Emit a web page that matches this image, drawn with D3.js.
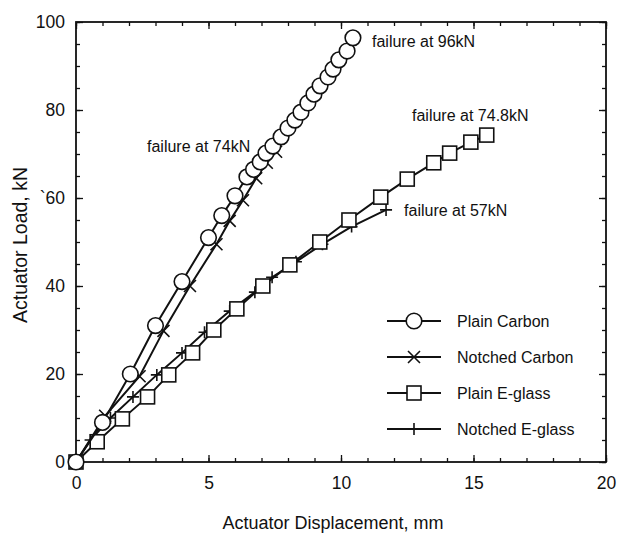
<!DOCTYPE html>
<html>
<head>
<meta charset="utf-8">
<script src="https://cdn.jsdelivr.net/npm/d3@7/dist/d3.min.js"></script>
<style>
  body { margin: 0; background: #fff; }
  text { font-family: "Liberation Sans", Arial, Helvetica, sans-serif; fill: #111; }
</style>
</head>
<body>
<svg id="chart" width="617" height="533"></svg>
<script>
// displacement (mm), load (kN)
const plainCarbon = [
  [0, 0], [1.0, 9], [2.05, 20], [3.0, 31], [4.0, 41], [5.0, 51], [5.5, 56],
  [6.0, 60.5], [6.45, 64.8], [6.7, 66.5], [6.95, 68.2], [7.17, 70.2],
  [7.43, 71.8], [7.74, 73.9], [8.0, 75.9], [8.26, 77.7], [8.49, 79.5],
  [8.75, 81.6], [8.98, 83.6], [9.21, 85.5], [9.51, 87.5], [9.7, 89.3],
  [9.92, 91.4], [10.23, 93.4], [10.45, 96.4]
];
const notchedCarbon = [
  [0, 0], [1.1, 10.5], [2.4, 19.5], [3.3, 29.8], [4.3, 40], [5.3, 49.5],
  [5.8, 54.8], [6.3, 59.5], [6.8, 64.5], [7.2, 68], [7.55, 70.5]
];
const plainGlass = [
  [0, 0], [0.8, 4.6], [1.75, 9.8], [2.7, 14.8], [3.5, 19.8], [4.4, 24.8],
  [5.2, 30], [6.07, 34.8], [7.05, 40], [8.07, 44.8], [9.2, 50], [10.3, 55],
  [11.5, 60.2], [12.5, 64.3], [13.5, 68], [14.1, 70.2], [14.9, 72.7], [15.5, 74.3]
];
const notchedGlass = [
  [0, 0], [0.55, 5], [1.3, 10], [2.15, 14.8], [3.05, 19.8], [4.0, 24.8],
  [4.85, 29.5], [5.8, 34.3], [6.75, 38.6], [7.4, 42], [8.3, 45.5],
  [9.3, 49.5], [10.4, 53.5], [11.7, 57.3]
];

const xTicks = [0, 5, 10, 15, 20];
const yTicks = [0, 20, 40, 60, 80, 100];
const yTickLabels = ["0", "20", "40", "`60", "80", "100"];
const legendNames = ["Plain Carbon", "Notched Carbon", "Plain E-glass", "Notched E-glass"];
const notes = [
  { text: "failure at 96kN", x: 11.17, y: 94.3 },
  { text: "failure at 74kN", x: 2.68, y: 70.5 },
  { text: "failure at 74.8kN", x: 12.68, y: 77.5 },
  { text: "failure at 57kN", x: 12.38, y: 55.9 }
];

const margin = { top: 22, right: 11, bottom: 71, left: 76 },
  width = 617 - margin.left - margin.right,
  height = 533 - margin.top - margin.bottom;

const svg = d3.select("#chart")
  .append("g")
  .attr("transform", "translate(" + margin.left + "," + margin.top + ")");

const x = d3.scaleLinear().domain([0, 20]).range([0, width]);
const y = d3.scaleLinear().domain([0, 100]).range([height, 0]);

// inward ticks on all four sides, minor ones first
function tickAxis(axis, tr, size, values, labels) {
  const g = svg.append("g").attr("transform", tr)
    .call(axis.tickValues(values).tickSize(size).tickFormat(labels || (() => "")));
  g.selectAll("line").attr("stroke", "#111").attr("stroke-width", 1.3);
  g.select(".domain").remove();
  return g;
}
const xMinor = d3.range(0, 21, 1);
const yMinor = d3.range(0, 101, 5);
tickAxis(d3.axisBottom(x), "translate(0," + height + ")", -4, xMinor);
tickAxis(d3.axisTop(x), "translate(0,0)", -4, xMinor);
tickAxis(d3.axisLeft(y), "translate(0,0)", -4, yMinor);
tickAxis(d3.axisRight(y), "translate(" + width + ",0)", -4, yMinor);

const xb = tickAxis(d3.axisBottom(x), "translate(0," + height + ")", -7, xTicks, d => d);
xb.selectAll("text").style("font-size", "17.5px").attr("y", 15);
tickAxis(d3.axisTop(x), "translate(0,0)", -7, xTicks);
const yl = tickAxis(d3.axisLeft(y), "translate(0,0)", -7, yTicks, (d, i) => yTickLabels[i]);
yl.selectAll("text").style("font-size", "17.5px").attr("x", -11);
tickAxis(d3.axisRight(y), "translate(" + width + ",0)", -7, yTicks);

svg.append("rect")
  .attr("width", width).attr("height", height)
  .attr("fill", "none").attr("stroke", "#111").attr("stroke-width", 1.8);

// axis titles
svg.append("text")
  .attr("x", width / 2 - 8).attr("y", height + 67)
  .attr("text-anchor", "middle").style("font-size", "18px")
  .text("Actuator Displacement, mm");
svg.append("text")
  .attr("transform", "translate(" + (-49) + "," + (height / 2 + 3) + ") rotate(-90)")
  .attr("text-anchor", "middle").style("font-size", "19.5px")
  .text("Actuator Load, kN");

const line = d3.line().x(d => x(d[0])).y(d => y(d[1]));

function drawMarker(g, kind, cx, cy) {
  if (kind === "circle") {
    g.append("circle").attr("cx", cx).attr("cy", cy).attr("r", 7.8)
      .attr("fill", "#fff").attr("stroke", "#111").attr("stroke-width", 1.6);
  } else if (kind === "square") {
    g.append("rect").attr("x", cx - 7).attr("y", cy - 7).attr("width", 14).attr("height", 14)
      .attr("fill", "#fff").attr("stroke", "#111").attr("stroke-width", 1.6);
  } else if (kind === "cross") {
    g.append("path").attr("d", `M${cx - 6},${cy - 6}L${cx + 6},${cy + 6}M${cx - 6},${cy + 6}L${cx + 6},${cy - 6}`)
      .attr("stroke", "#111").attr("stroke-width", 1.6);
  } else {
    g.append("path").attr("d", `M${cx - 6},${cy}L${cx + 6},${cy}M${cx},${cy - 6}L${cx},${cy + 6}`)
      .attr("stroke", "#111").attr("stroke-width", 1.6);
  }
}

const series = [
  { data: notchedGlass, kind: "plus" },
  { data: plainGlass, kind: "square" },
  { data: notchedCarbon, kind: "cross" },
  { data: plainCarbon, kind: "circle" }
];
series.forEach(s => {
  const g = svg.append("g");
  g.append("path").datum(s.data)
    .attr("fill", "none").attr("stroke", "#111").attr("stroke-width", 2)
    .attr("d", line);
  s.data.forEach(d => drawMarker(g, s.kind, x(d[0]), y(d[1])));
});

// failure notes
svg.selectAll(".note").data(notes).enter().append("text")
  .attr("class", "note")
  .attr("x", d => x(d.x)).attr("y", d => y(d.y))
  .style("font-size", "16px")
  .text(d => d.text);

// legend
const kinds = ["circle", "cross", "square", "plus"];
const leg = svg.append("g").attr("transform", "translate(311,299)");
legendNames.forEach((name, i) => {
  const ly = i * 36;
  leg.append("line").attr("x1", 0).attr("x2", 54).attr("y1", ly).attr("y2", ly)
    .attr("stroke", "#111").attr("stroke-width", 1.8);
  drawMarker(leg, kinds[i], 27, ly);
  leg.append("text").attr("x", 70).attr("y", ly + 6).style("font-size", "16px").text(name);
});
</script>
</body>
</html>
